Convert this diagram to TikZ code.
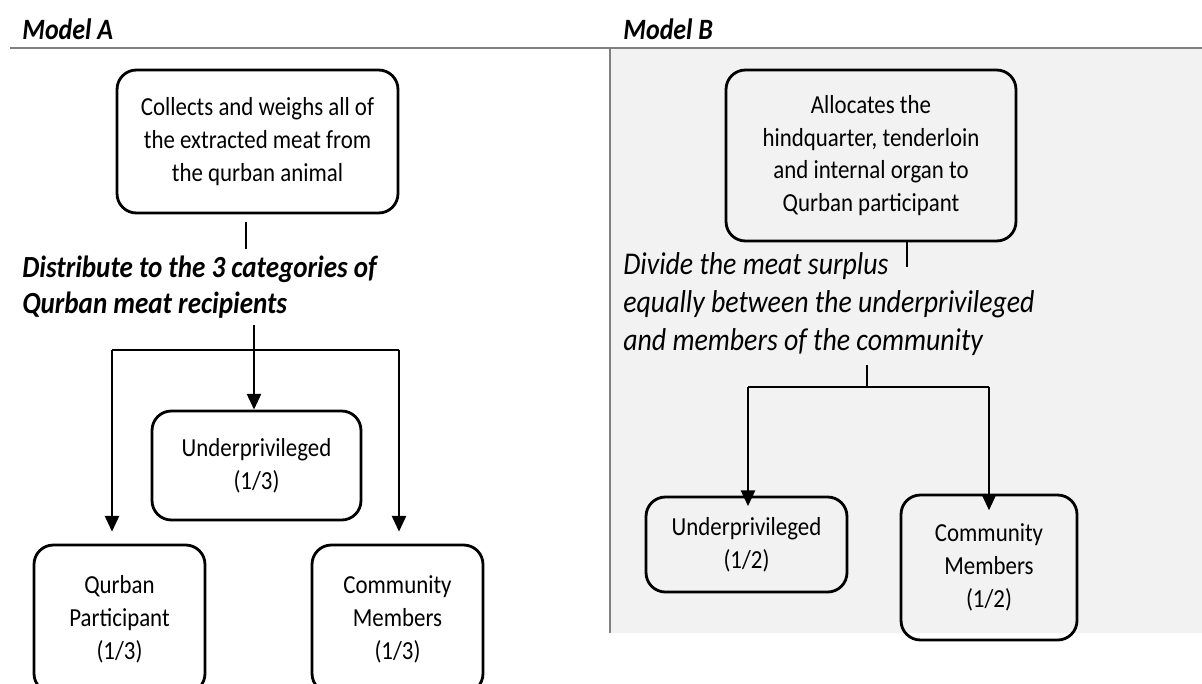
\documentclass[tikz,border=0pt]{standalone}
\usepackage{fontspec}
\setmainfont{Carlito}[FakeStretch=0.88]
\usetikzlibrary{arrows.meta}
\definecolor{panelgray}{HTML}{F2F2F2}
\definecolor{rulegray}{HTML}{7F7F7F}

\begin{document}
\begin{tikzpicture}[x=0.02cm,y=-0.02cm]
		\tikzset{box/.style = {draw, rounded corners=11pt, line width=1.6pt, align=center, inner sep=0pt, font=\fontsize{14.8}{18.7}\selectfont},
			arrow/.style = {line width=1.4pt, -{Triangle[width=8pt,length=9pt]}},
			link/.style = {line width=1.4pt},
			heading/.style = {anchor=base west, inner sep=0pt, font=\bfseries\itshape\fontsize{16.8}{19}\selectfont},
			noteA/.style = {anchor=base west, inner sep=0pt, align=left, font=\bfseries\itshape\fontsize{17.5}{20.4}\selectfont},
			noteB/.style = {anchor=base west, inner sep=0pt, align=left, font=\itshape\fontsize{18}{21.5}\selectfont}}

		\useasboundingbox (0,0) rectangle (1202,683);
		\clip (0,0) rectangle (1202,683);

		% panels
		\fill[panelgray] (610,48) rectangle (1202,633);
		\draw[rulegray, line width=1.3pt] (10,48) -- (1202,48);
		\draw[rulegray, line width=1.3pt] (610,48) -- (610,633);

		\node[heading] (headA) at (22,39) {Model A};
		\node[heading] (headB) at (623,39) {Model B};

		% Model A
		\node[box, minimum width=5.62cm, minimum height=2.86cm] (topA) at (257.5,141.5) {Collects and weighs all of\\ the extracted meat from\\ the qurban animal};
		\node[noteA] (noteA) at (22,313) {Distribute to the 3 categories of\\ Qurban meat recipients};
		\node[box, minimum width=4.18cm, minimum height=2.18cm] (upA) at (256.5,465.5) {Underprivileged\\ (1/3)};
		\node[box, minimum width=3.42cm, minimum height=2.96cm] (qpA) at (119.5,619) {Qurban\\ Participant\\ (1/3)};
		\node[box, minimum width=3.42cm, minimum height=2.96cm] (cmA) at (397.5,619) {Community\\ Members\\ (1/3)};

		\coordinate (sA1) at (246,222);
		\coordinate (sA2) at (246,249);
		\coordinate (sA3) at (254,325);
		\coordinate (jA) at (254,350);
		\coordinate (lA) at (112,350);
		\coordinate (rA) at (399,350);

		\draw[link] (sA1) -- (sA2);
		\draw[link] (sA3) -- (jA);
		\draw[link] (lA) -- (rA);
		\draw[arrow] (jA) -- (jA |- upA.north);
		\draw[arrow, shorten >=6.8pt] (lA) -- (lA |- qpA.north);
		\draw[arrow, shorten >=6.8pt] (rA) -- (rA |- cmA.north);

		% Model B
		\node[box, minimum width=5.8cm, minimum height=3.42cm] (topB) at (871,155.5) {Allocates the\\ hindquarter, tenderloin\\ and internal organ to\\ Qurban participant};
		\node[noteB] (noteB) at (623,350) {Divide the meat surplus\\ equally between the underprivileged\\ and members of the community};
		\node[box, minimum width=4.02cm, minimum height=1.9cm] (upB) at (746.5,544.5) {Underprivileged\\ (1/2)};
		\node[box, minimum width=3.52cm, minimum height=2.9cm] (cmB) at (989,567.5) {Community\\ Members\\ (1/2)};

		\coordinate (sB1) at (907,241);
		\coordinate (sB2) at (907,267);
		\coordinate (sB3) at (867,365);
		\coordinate (jB) at (867,387);
		\coordinate (lB) at (748,387);
		\coordinate (rB) at (989,387);

		\draw[link] (sB1) -- (sB2);
		\draw[link] (sB3) -- (jB);
		\draw[link] (lB) -- (rB);
		\draw[arrow, shorten >=-6pt] (lB) -- (lB |- upB.north);
		\draw[arrow, shorten >=-9.5pt] (rB) -- (rB |- cmB.north);

	\end{tikzpicture}
\end{document}
